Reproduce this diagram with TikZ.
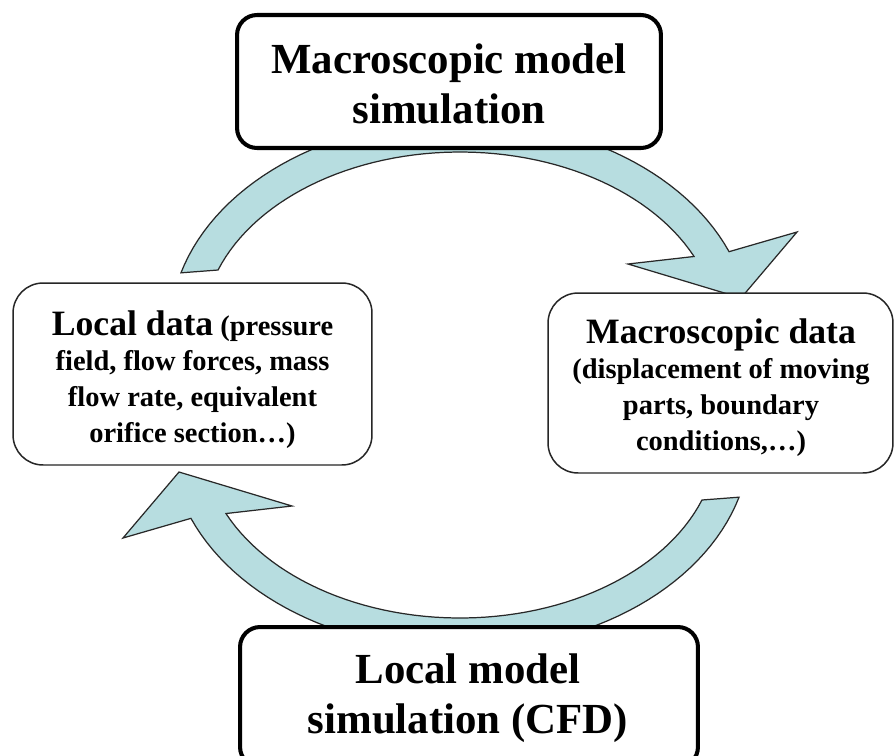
\documentclass[tikz,border=0pt]{standalone}
\usepackage{fontspec}
\setmainfont{Liberation Serif}
\definecolor{bandfill}{RGB}{183,221,224}
\definecolor{bandline}{RGB}{40,40,40}
\tikzset{
  band/.style={fill=bandfill, draw=bandline, line width=0.7pt, line join=miter},
  bigbox/.style={draw=black, fill=white, line width=2.3pt, rounded corners=0.4cm, inner sep=0pt},
  databox/.style={draw=black!85, fill=white, line width=0.85pt, rounded corners=0.6cm, inner sep=0pt},
  bigtext/.style={align=center, inner sep=0pt, font=\bfseries\fontsize{24.4}{28.6}\selectfont},
  datatext/.style={align=center, inner sep=0pt, font=\bfseries\fontsize{16.2}{20.4}\selectfont}
}
\newcommand{\datahead}[1]{{\fontsize{20.3}{20.4}\selectfont #1}}
\begin{document}
\begin{tikzpicture}[x=0.02cm,y=-0.02cm]
\useasboundingbox (0,0) rectangle (895,755);
\clip (0,0) rectangle (895,755);
\fill[white] (0,0) rectangle (895,755);
% top curved arrow
\filldraw[band] plot[domain=164.2:21.9, samples=60, variable=\t] ({460+290*cos(\t)},{330-210*sin(\t)})
  -- (797,232) -- (741,298) -- (628,264)
  -- plot[domain=24.4:160.3, samples=60, variable=\t] ({460+257*cos(\t)},{330-178*sin(\t)}) -- cycle;
% bottom curved arrow (same shape turned half round)
\begin{scope}[rotate around={180:(460,385)}]
\filldraw[band] plot[domain=164.2:21.9, samples=60, variable=\t] ({460+290*cos(\t)},{330-210*sin(\t)})
  -- (797,232) -- (741,298) -- (628,264)
  -- plot[domain=24.4:160.3, samples=60, variable=\t] ({460+257*cos(\t)},{330-178*sin(\t)}) -- cycle;
\end{scope}
% boxes
\node[bigbox, minimum width=8.48cm, minimum height=2.66cm] (macro) at (449,81.5) {};
\node[bigtext] (macrotext) at (449,84) {Macroscopic model\\simulation};
\node[bigbox, minimum width=9.16cm, minimum height=2.8cm] (local) at (469,697) {};
\node[bigtext] (localtext) at (468,698.5) {Local model\\simulation (CFD)};
\node[databox, minimum width=7.18cm, minimum height=3.64cm] (ldata) at (192.5,374) {};
\node[datatext] (ldatatext) at (192.5,379.5)
  {\datahead{Local data} (pressure\\field, flow forces, mass\\flow rate, equivalent\\orifice section…)};
\node[databox, minimum width=6.9cm, minimum height=3.6cm] (mdata) at (720.5,383) {};
\node[datatext] (mdatatext) at (721,387.5)
  {\datahead{Macroscopic data}\\(displacement of moving\\parts, boundary\\conditions,…)};
\end{tikzpicture}
\end{document}
